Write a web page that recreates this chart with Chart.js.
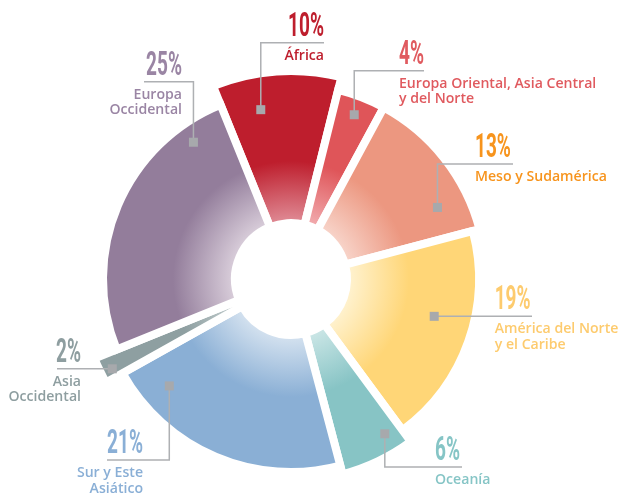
<!DOCTYPE html>
<html><head><meta charset="utf-8">
<script src="https://cdn.jsdelivr.net/npm/chart.js@4.4.1/dist/chart.umd.min.js"></script>
<style>html,body{margin:0;padding:0;background:#fff;}canvas{display:block;}</style>
</head><body>
<canvas id="c" width="618" height="497"></canvas>
<script>
// ---- data ----
const categories = ['África','Europa Oriental, Asia Central y del Norte','Meso y Sudamérica','América del Norte y el Caribe','Oceanía','Sur y Este Asiático','Asia Occidental','Europa Occidental'];
const shares = [10, 4, 13, 19, 6, 21, 2, 25];
const pctLabels = ['10%','4%','13%','19%','6%','21%','2%','25%'];
const labelLines = [['África'],['Europa Oriental, Asia Central','y del Norte'],['Meso y Sudamérica'],['América del Norte','y el Caribe'],['Oceanía'],['Sur y Este','Asiático'],['Asia','Occidental'],['Europa','Occidental']];

// ---- style ----
const segColors   = ['#be1e2d','#df5559','#ec9780','#ffd677','#87c4c5','#8aafd5','#8e9fa1','#937d9b'];
const lightColors = ['#e08d97','#f2aeb1','#f8d6cc','#fff3d2','#cde7e7','#d6e3f0','#c8d2d3','#dbd0dc'];
const textColors  = ['#be1e2d','#e05a5f','#f7941d','#fdcb6e','#86c5c6','#8aafd6','#8e9ea0','#9a85a4'];
const radiusExtra = [20, 7, 7, 0, 14, 5, 24, 0];
const OUTER = 188, CUT = 56;
// label layout
const markerFrac = [0.33, 0.49, 0.76, 0.43, 0.24, 0.84, 0.35, 0.85];
const markerR    = [172, 176, 163, 148, 181, 162, 200, 168];
const lineYs     = [42.7, 70.7, 164, null, 467, 460, null, 81.7];
const textXs     = [324, 399, 475, 494.7, 435, 143, 81, 182];
const textAligns = ['right','left','left','left','left','right','right','right'];
const lineEnds   = [324, 424, 513, 532, 462, 107, 57, 144];

function center(chart){const a=chart.chartArea;return {x:(a.left+a.right)/2,y:(a.top+a.bottom)/2};}

const radiusPlugin = {
  id:'radiusExtra',
  afterDatasetsUpdate(chart){
    const meta = chart.getDatasetMeta(0);
    meta.data.forEach((el,i)=>{ el.outerRadius = OUTER + radiusExtra[i]; });
  }
};

const labelPlugin = {
  id:'labels',
  afterDraw(chart){
    const ctx = chart.ctx;
    const meta = chart.getDatasetMeta(0);
    meta.data.forEach((el,i)=>{
      const a = el.startAngle + markerFrac[i]*(el.endAngle-el.startAngle);
      const mx = el.x + Math.cos(a)*markerR[i];
      const my = el.y + Math.sin(a)*markerR[i];
      const ly = lineYs[i] == null ? my : lineYs[i];
      ctx.save();
      ctx.strokeStyle = '#aeb0b3';
      ctx.lineWidth = 1.5;
      ctx.beginPath();
      ctx.moveTo(mx, my);
      ctx.lineTo(mx, ly);
      ctx.lineTo(lineEnds[i], ly);
      ctx.stroke();
      ctx.fillStyle = '#a7a9ac';
      ctx.fillRect(mx-4.5, my-4.5, 9, 9);
      // percent
      ctx.fillStyle = textColors[i];
      ctx.textBaseline = 'alphabetic';
      ctx.save();
      ctx.translate(textXs[i], ly-7);
      ctx.scale(0.56,1);
      ctx.font = '700 34px Roboto';
      ctx.textAlign = textAligns[i];
      ctx.fillText(pctLabels[i], 0, 0);
      ctx.restore();
      // names
      labelLines[i].forEach((t,k)=>{
        ctx.save();
        ctx.translate(textXs[i], ly+17+k*15.5);
        ctx.scale(0.94,1);
        ctx.font = '600 15px "Open Sans"';
        ctx.textAlign = textAligns[i];
        ctx.fillText(t, 0, 0);
        ctx.restore();
      });
      ctx.restore();
    });
  }
};

new Chart(document.getElementById('c'), {
  type:'doughnut',
  data:{
    labels: categories,
    datasets:[{
      data: shares,
      backgroundColor(c){
        const i = c.dataIndex;
        const chart = c.chart;
        if(!chart.chartArea || i==null) return segColors[i||0];
        const p = center(chart);
        const g = chart.ctx.createRadialGradient(p.x,p.y,CUT,p.x,p.y,CUT+62);
        g.addColorStop(0, lightColors[i]);
        g.addColorStop(1, segColors[i]);
        return g;
      },
      borderColor:'#ffffff',
      borderWidth:8,
      borderAlign:'center',
      borderJoinStyle:'miter'
    }]
  },
  options:{
    responsive:false,
    animation:false,
    rotation:-22,
    radius: OUTER,
    cutout: (CUT/OUTER*100)+'%',
    layout:{padding:{left:0,right:36,top:61,bottom:0}},
    plugins:{legend:{display:false},tooltip:{enabled:false}},
    events:[]
  },
  plugins:[radiusPlugin,labelPlugin]
});
</script>
</body></html>
